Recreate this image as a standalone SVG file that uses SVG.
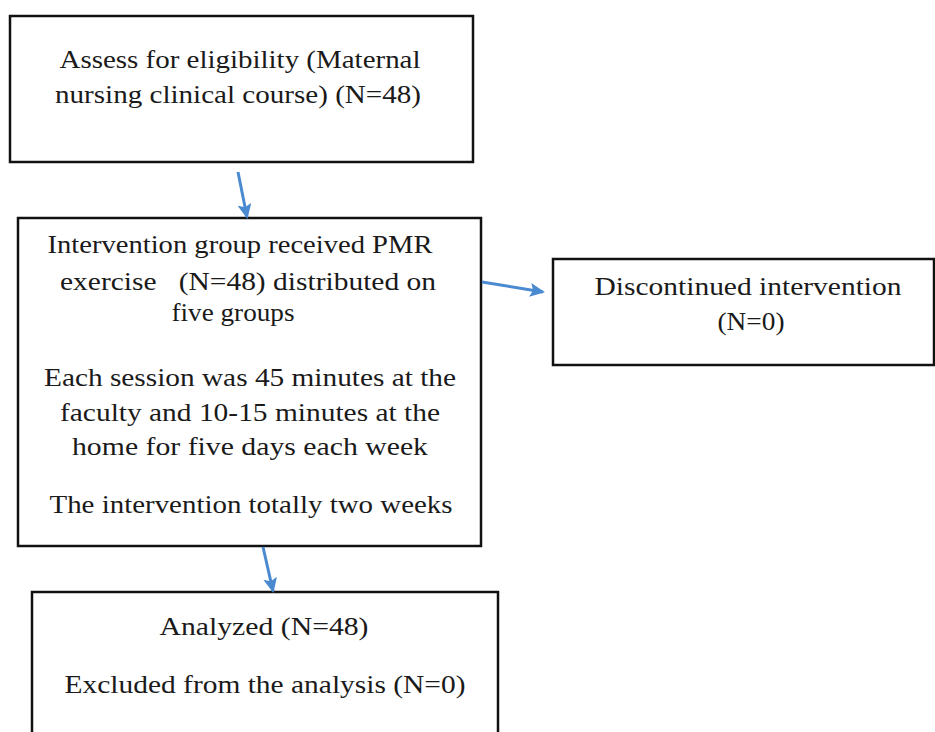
<svg xmlns="http://www.w3.org/2000/svg" width="935" height="732" viewBox="0 0 935 732">
<defs>
<style>
.box{fill:#fff;stroke:#111;stroke-width:2.5}
.t{font-family:"Liberation Serif","Times New Roman",serif;font-size:25px;fill:#1a1a1a;text-anchor:middle}
.c{stroke:#4a8ad0;stroke-width:3;fill:none}
</style>
<marker id="ah" markerWidth="15" markerHeight="14" refX="13" refY="7" orient="auto" markerUnits="userSpaceOnUse" viewBox="0 0 15 14">
<path d="M0,0 L15,7 L0,14 L3,7 z" fill="#4a8ad0"/>
</marker>
</defs>
<rect width="935" height="732" fill="#fff"/>
<g id="n1">
<rect class="box" x="10" y="16" width="463" height="146"/>
<text class="t" x="240" y="68" textLength="361" lengthAdjust="spacingAndGlyphs">Assess for eligibility (Maternal</text>
<text class="t" x="238" y="103" textLength="366" lengthAdjust="spacingAndGlyphs">nursing clinical course) (N=48)</text>
</g>
<g id="n2">
<rect class="box" x="18" y="218" width="463" height="328"/>
<text class="t" x="240" y="253" textLength="385" lengthAdjust="spacingAndGlyphs">Intervention group received PMR</text>
<text class="t" x="248" y="290" textLength="376" lengthAdjust="spacingAndGlyphs" xml:space="preserve">exercise   (N=48) distributed on</text>
<text class="t" x="233" y="321" textLength="123" lengthAdjust="spacingAndGlyphs">five groups</text>
<text class="t" x="250" y="386" textLength="412" lengthAdjust="spacingAndGlyphs">Each session was 45 minutes at the</text>
<text class="t" x="250" y="421" textLength="380" lengthAdjust="spacingAndGlyphs">faculty and 10-15 minutes at the</text>
<text class="t" x="250" y="455" textLength="356" lengthAdjust="spacingAndGlyphs">home for five days each week</text>
<text class="t" x="251" y="513" textLength="403" lengthAdjust="spacingAndGlyphs">The intervention totally two weeks</text>
</g>
<g id="n3">
<rect class="box" x="553" y="259" width="381" height="106"/>
<text class="t" x="748" y="295" textLength="307" lengthAdjust="spacingAndGlyphs">Discontinued intervention</text>
<text class="t" x="751" y="330" textLength="67" lengthAdjust="spacingAndGlyphs">(N=0)</text>
</g>
<g id="n4">
<rect class="box" x="32" y="592" width="466" height="160"/>
<text class="t" x="264" y="635" textLength="209" lengthAdjust="spacingAndGlyphs">Analyzed (N=48)</text>
<text class="t" x="265" y="693" textLength="401" lengthAdjust="spacingAndGlyphs">Excluded from the analysis (N=0)</text>
</g>
<g id="connectors">
<path class="c" d="M238,172 L247,217" marker-end="url(#ah)"/>
<path class="c" d="M482,282 L543,292" marker-end="url(#ah)"/>
<path class="c" d="M263,547 L273,591" marker-end="url(#ah)"/>
</g>
</svg>
